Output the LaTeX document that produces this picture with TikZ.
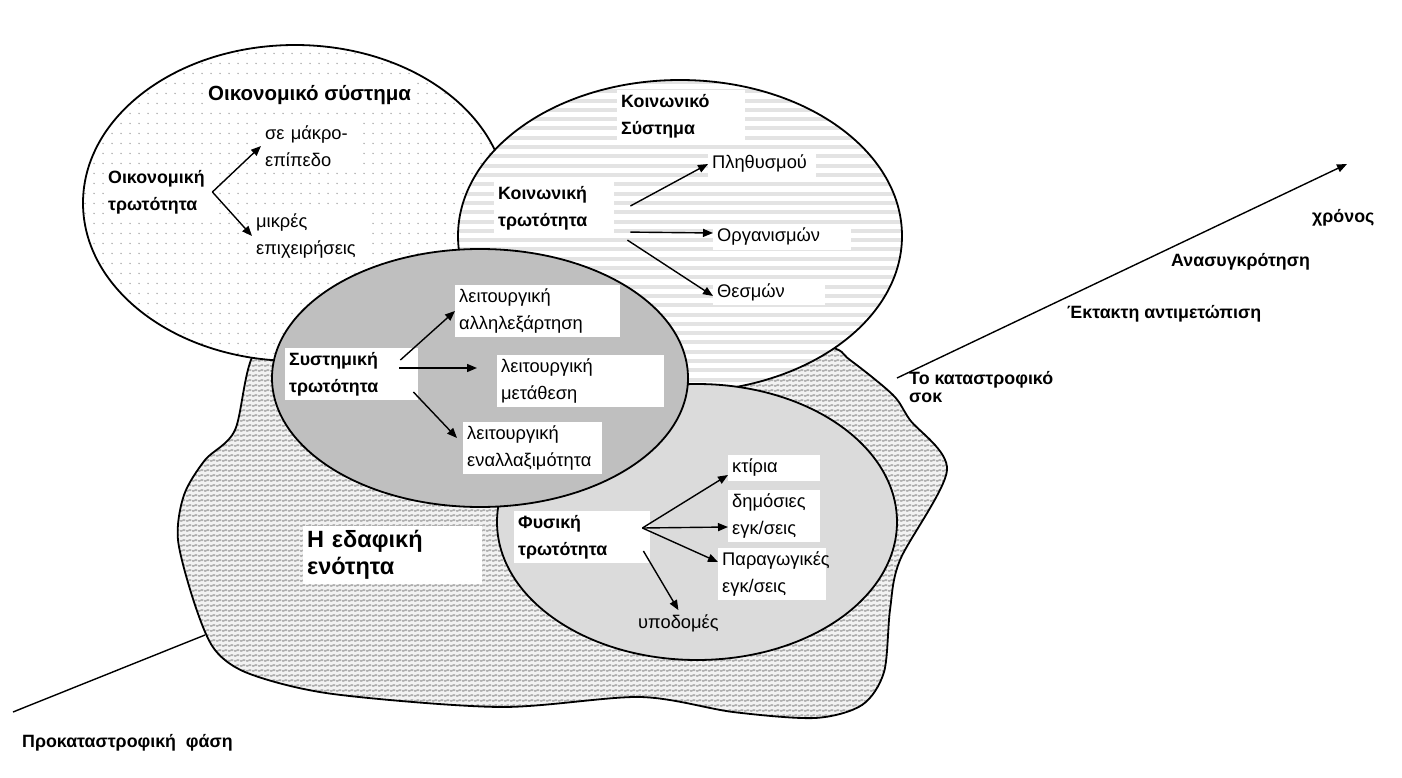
\documentclass[tikz,border=0pt]{standalone}
\usepackage{fontspec}
\setmainfont{Liberation Sans}
\usepackage{tikz}
\usetikzlibrary{arrows.meta, patterns.meta}

% fill patterns of the economic system and of the territory
\tikzdeclarepattern{
    name=sparsedots,
    type=uncolored,
    bounding box={(0pt,0pt) and (9pt,10pt)},
    tile size={(9pt,10pt)},
    code={\fill (4.5pt,5pt) circle [radius=0.9pt];}
}
\tikzdeclarepattern{
    name=waves,
    type=uncolored,
    bounding box={(0pt,0pt) and (6pt,5pt)},
    tile size={(6pt,5pt)},
    code={\draw[line width=1.8pt] (0pt,3pt) .. controls (1.5pt,0.3pt) and (4.5pt,5.7pt) .. (6pt,3pt);}
}

% outline of the territorial unit
\newcommand{\landshape}{plot [smooth cycle, tension=0.5] coordinates {
    (825,346) (850,360) (893,395) (910,420) (947,470) (900,560)
    (890,610) (884,672) (862,705) (815,718) (733,712) (640,697)
    (500,707) (333,694) (250,674) (215,650) (195,605) (178,540)
    (184,495) (205,460) (235,430) (256,350) (320,320) (500,300) (700,330)}}

\tikzset{
    txt/.style={font=\fontsize{18.3}{27}\selectfont, align=left, anchor=west, fill=white, inner xsep=4pt, inner ysep=4pt},
    txtb/.style={txt, font=\fontsize{17.8}{27}\selectfont\bfseries},
    tline/.style={font=\fontsize{17.8}{18}\selectfont\bfseries, align=left, anchor=west, fill=white, inner sep=3pt},
    arr/.style={-{Triangle[length=10pt, width=8pt]}, line width=1.4pt},
    outline/.style={draw, line width=1.8pt},
    land/.style={outline, preaction={fill=black!5}, preaction={pattern=waves, pattern color=gray!62}},
    ecoell/.style={outline, preaction={fill=white}, preaction={pattern=sparsedots, pattern color=gray!65}}
}

\begin{document}
\begin{tikzpicture}[x=1pt, y=-1pt]
    \useasboundingbox (0,0) rectangle (1402,778);

    % the territorial unit
    \draw[land] \landshape;

    % economic system
    \path[ecoell] (295,203) ellipse [x radius=212, y radius=158];

    % social system
    \begin{scope}
        \clip (680,236) ellipse [x radius=222, y radius=156];
        \fill[white] (455,78) rectangle (905,395);
        \foreach \y in {80,89.3,...,395}
            \fill[gray!22] (455,\y) rectangle (905,\y+4);
    \end{scope}
    \draw[outline] (680,236) ellipse [x radius=222, y radius=156];

    % physical and systemic
    \draw[outline, fill=black!14] (697,522) ellipse [x radius=200, y radius=138];
    \draw[outline, fill=black!25] (480,378) ellipse [x radius=208, y radius=129];

    % economic system
    \node (econsys) [txtb, font=\fontsize{20.5}{27}\selectfont\bfseries] at (204,95) {Οικονομικό σύστημα};
    \node (ecovul) [txtb, text width=100] at (104,192) {Οικονομική\\τρωτότητα};
    \node (ecomacro) [txt, text width=92] at (261,146) {σε μάκρο-\\επίπεδο};
    \node (ecosmall) [txt, text width=112] at (252,236) {μικρές\\επιχειρήσεις};
    \draw[arr] (ecovul.east) -- (ecomacro.west);
    \draw[arr] (ecovul.east) -- (ecosmall.west);

    % social system
    \node (socsys) [txtb, text width=120] at (617,116) {Κοινωνικό\\Σύστημα};
    \node (socvul) [txtb, text width=112] at (494,208) {Κοινωνική\\τρωτότητα};
    \node (socpop) [txt, text width=100] at (708,164) {Πληθυσμού};
    \node (socorg) [txt, text width=130] at (713,237) {Οργανισμών};
    \node (socinst) [txt, text width=104] at (713,292) {Θεσμών};
    \draw[arr] ([xshift=16pt, yshift=2pt]socvul.east) -- (socpop.west);
    \draw[arr] ([xshift=16pt, yshift=2pt]socvul.south east) -- ([yshift=4pt]socorg.west);
    \draw[arr] ([xshift=13pt, yshift=-6pt]socvul.south east) -- ([yshift=-4pt]socinst.west);

    % systemic vulnerability
    \node (sysvul) [txtb, text width=125] at (285,374) {Συστημική\\τρωτότητα};
    \node (sysdep) [txt, text width=157] at (455,311) {λειτουργική\\αλληλεξάρτηση};
    \node (sysshift) [txt, text width=159] at (497,381) {λειτουργική\\μετάθεση};
    \node (sysswap) [txt, text width=131] at (463,448) {λειτουργική\\εναλλαξιμότητα};
    \draw[arr] ([xshift=-18pt, yshift=14pt]sysvul.east) -- (sysdep.west);
    \draw[arr] ([xshift=-19pt, yshift=6pt]sysvul.east) -- ([xshift=-20pt, yshift=13pt]sysshift.west);
    \draw[arr] ([xshift=-5pt, yshift=-18pt]sysvul.east) -- ([xshift=-6pt, yshift=10pt]sysswap.west);

    % physical system
    \node (physvul) [txtb, text width=128] at (514,537) {Φυσική\\τρωτότητα};
    \node (physbld) [txt, text width=84] at (728,468) {κτίρια};
    \node (physpub) [txt, text width=84] at (728,516) {δημόσιες\\εγκ/σεις};
    \node (physprod) [txt, text width=100] at (718,574) {Παραγωγικές\\εγκ/σεις};
    \node (physinfra) [txt, fill=none] at (634,623) {υποδομές};
    \draw[arr] ([xshift=-8pt, yshift=9pt]physvul.east) -- ([yshift=-7pt]physbld.west);
    \draw[arr] ([xshift=-8pt, yshift=9pt]physvul.east) -- ([yshift=-11pt]physpub.west);
    \draw[arr] ([xshift=-8pt, yshift=9pt]physvul.east) -- ([yshift=12pt]physprod.west);
    \draw[arr] ([xshift=-7pt, yshift=-14pt]physvul.east) -- (physinfra.north);

    \node (terr) [txtb, font=\fontsize{23.5}{27}\selectfont\bfseries, text width=171] at (303,555) {Η εδαφική\\ενότητα};

    % time axis
    \coordinate (pre) at (13,712);
    \coordinate (prejoin) at (205,635);
    \coordinate (shock) at (897,378);
    \coordinate (timeend) at (1347,164);
    \draw[line width=1.4pt] (pre) -- (prejoin);
    \node (shocklbl) [tline] at (906,387) {Το καταστροφικό\\σοκ};
    \draw[arr] (shock) -- (timeend);
    \node (respond) [tline] at (1064,314) {Έκτακτη αντιμετώπιση};
    \node (recover) [tline] at (1168,262) {Ανασυγκρότηση};
    \node (timelbl) [tline] at (1309,218) {χρόνος};
    \node (prelbl) [tline] at (19,743) {Προκαταστροφική\ \ φάση};
\end{tikzpicture}
\end{document}
